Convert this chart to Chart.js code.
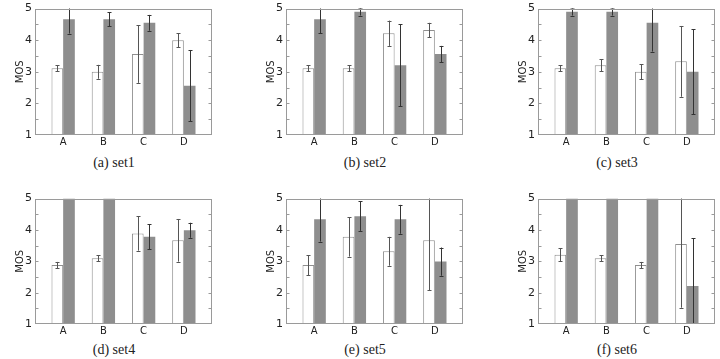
<!DOCTYPE html>
<html>
<head>
<meta charset="utf-8">
<script src="https://cdn.jsdelivr.net/npm/chart.js@4/dist/chart.umd.min.js"></script>
<style>
  html,body{margin:0;padding:0;background:#fff;}
  body{width:720px;height:359px;position:relative;overflow:hidden;}
  .panel{position:absolute;}
  .cap{position:absolute;width:120px;margin-left:-60px;text-align:center;
       font-family:"Liberation Serif",serif;font-size:14px;color:#222;line-height:16px;}
</style>
</head>
<body>
<script>
// ---- data ----
const categories = ['A','B','C','D'];
const setLabels = ['(a) set1','(b) set2','(c) set3','(d) set4','(e) set5','(f) set6'];

// white bars (mean, error half-length)
const whiteMean = [
  [3.11, 3.00, 3.56, 4.00],
  [3.11, 3.11, 4.22, 4.32],
  [3.11, 3.21, 3.00, 3.33],
  [2.88, 3.10, 3.89, 3.67],
  [2.88, 3.78, 3.32, 3.67],
  [3.21, 3.10, 2.88, 3.55]
];
const whiteErr = [
  [0.10, 0.22, 0.91, 0.22],
  [0.10, 0.10, 0.40, 0.23],
  [0.10, 0.19, 0.24, 1.12],
  [0.10, 0.10, 0.55, 0.68],
  [0.32, 0.63, 0.46, 1.60],
  [0.20, 0.10, 0.10, 2.03]
];
// gray bars
const grayMean = [
  [4.66, 4.66, 4.55, 2.56],
  [4.66, 4.90, 3.21, 3.56],
  [4.90, 4.90, 4.55, 3.00],
  [5.00, 5.00, 3.78, 3.99],
  [4.34, 4.44, 4.34, 2.99],
  [5.00, 5.00, 5.00, 2.21]
];
const grayErr = [
  [0.45, 0.22, 0.25, 1.13],
  [0.44, 0.12, 1.30, 0.26],
  [0.12, 0.12, 0.91, 1.34],
  [0.00, 0.00, 0.40, 0.24],
  [0.71, 0.47, 0.46, 0.45],
  [0.00, 0.00, 0.00, 1.53]
];
const yTicks = [1,2,3,4,5];

// ---- layout of the six panels (plot-area left / top / height) ----
const plotLeft = [35, 286, 538];
const plotTop = [7, 197];
const plotH = [128, 127];
const plotW = 177;
const axisW = 24, padTop = 8, padRight = 2, axisH = 14;

// error bars, drawn through the y scale
const errorBars = {
  id:'errorBars',
  afterDatasetsDraw(chart){
    const ctx = chart.ctx, ys = chart.scales.y, a = chart.chartArea;
    ctx.save();
    ctx.beginPath();
    ctx.rect(a.left, a.top, a.right-a.left, a.bottom-a.top);
    ctx.clip();
    chart.data.datasets.forEach((ds, di)=>{
      const meta = chart.getDatasetMeta(di);
      meta.data.forEach((bar, i)=>{
        const e = ds.err[i];
        if(!e) return;
        const v = ds.data[i].y;
        const x = Math.round(bar.x) + 0.5;
        const y1 = ys.getPixelForValue(v+e), y2 = ys.getPixelForValue(v-e);
        ctx.strokeStyle = di===0 ? '#555' : '#333';
        ctx.lineWidth = 1;
        ctx.beginPath();
        ctx.moveTo(x, y1); ctx.lineTo(x, y2);
        ctx.moveTo(x-2, Math.round(y1)+0.5); ctx.lineTo(x+2, Math.round(y1)+0.5);
        ctx.moveTo(x-2, Math.round(y2)+0.5); ctx.lineTo(x+2, Math.round(y2)+0.5);
        ctx.stroke();
      });
    });
    ctx.restore();
  }
};

// matlab style box with small inward ticks
const boxFrame = {
  id:'boxFrame',
  afterDraw(chart){
    const ctx = chart.ctx, ys = chart.scales.y, a = chart.chartArea;
    const l = Math.round(a.left)+0.5, r = Math.round(a.right)-0.5;
    const t = Math.round(a.top)+0.5, b = Math.round(a.bottom)-0.5;
    ctx.save();
    ctx.strokeStyle = '#9a9a9a';
    ctx.lineWidth = 1;
    ctx.strokeRect(l, t, r-l, b-t);
    ctx.beginPath();
    for(let v=1.5; v<5; v+=0.5){
      const y = Math.round(ys.getPixelForValue(v))+0.5;
      ctx.moveTo(l, y); ctx.lineTo(l+3, y);
      ctx.moveTo(r, y); ctx.lineTo(r-3, y);
    }
    ctx.stroke();
    ctx.restore();
  }
};

function makePanel(k){
  const col = k%3, row = Math.floor(k/3);
  const w = axisW + plotW + padRight;
  const h = padTop + plotH[row] + axisH;
  const div = document.createElement('div');
  div.className = 'panel';
  div.style.left = (plotLeft[col]-axisW)+'px';
  div.style.top = (plotTop[row]-padTop)+'px';
  div.style.width = w+'px';
  div.style.height = h+'px';
  const cv = document.createElement('canvas');
  cv.width = w; cv.height = h;
  div.appendChild(cv);
  document.body.appendChild(div);

  const cap = document.createElement('div');
  cap.className = 'cap';
  cap.textContent = setLabels[k];
  cap.style.left = (plotLeft[col] + plotW/2 - 9.5)+'px';
  cap.style.top = (row===0 ? 155 : 342)+'px';
  document.body.appendChild(cap);

  new Chart(cv, {
    type:'bar',
    data:{
      datasets:[
        {data:categories.map((c,i)=>({x:i+1, y:whiteMean[k][i]})), err:whiteErr[k],
         backgroundColor:'#ffffff', borderColor:'#8f8f8f', borderWidth:1, base:1},
        {data:categories.map((c,i)=>({x:i+1, y:grayMean[k][i]})), err:grayErr[k],
         backgroundColor:'#8e8e8e', borderWidth:0, base:1}
      ]
    },
    options:{
      responsive:false,
      animation:false,
      devicePixelRatio:1,
      categoryPercentage:0.58,
      barPercentage:1.0,
      layout:{padding:{top:padTop, right:padRight, left:0, bottom:0}},
      plugins:{legend:{display:false}, tooltip:{enabled:false}},
      scales:{
        x:{
          type:'linear', min:0.3, max:4.7, offset:false,
          afterBuildTicks(s){ s.ticks = categories.map((c,i)=>({value:i+1})); },
          afterFit(s){ s.height = axisH; },
          grid:{display:false, drawTicks:false, offset:false}, border:{display:false},
          ticks:{callback:v=>categories[v-1], padding:1, color:'#222',
                 font:{family:'DejaVu Sans', size:10}, maxRotation:0, autoSkip:false}
        },
        y:{
          min:1, max:5,
          afterBuildTicks(s){ s.ticks = yTicks.map(v=>({value:v})); },
          afterFit(s){ s.width = axisW; },
          grid:{display:false, drawTicks:false}, border:{display:false},
          ticks:{padding:3, color:'#222', font:{family:'DejaVu Sans', size:11}},
          title:{display:true, text:'MOS', color:'#222', padding:{top:3,bottom:0},
                 font:{family:'DejaVu Sans', size:10}}
        }
      }
    },
    plugins:[errorBars, boxFrame]
  });
}

for(let k=0;k<6;k++) makePanel(k);
</script>
</body>
</html>
